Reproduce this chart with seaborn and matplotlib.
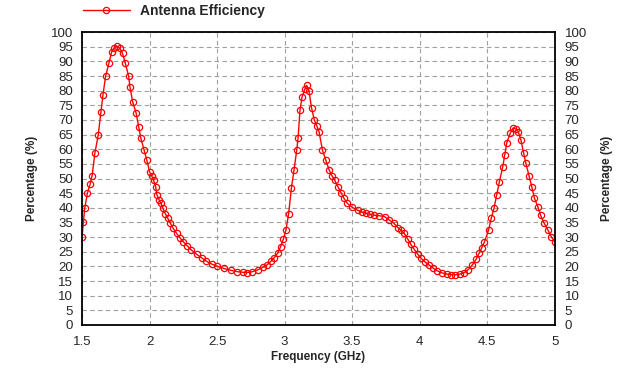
import numpy as np
import pandas as pd
import matplotlib
matplotlib.use("Agg")
import matplotlib.pyplot as plt
import seaborn as sns

# ==================== DATA ====================
freq_ghz = [
    1.50, 1.51, 1.52, 1.54, 1.56, 1.575, 1.595, 1.62, 1.64, 1.655, 1.675, 1.70,
    1.72, 1.74, 1.757, 1.78, 1.80, 1.82, 1.845, 1.855, 1.875, 1.90, 1.92, 1.935,
    1.96, 1.98, 2.00, 2.015, 2.03, 2.045, 2.055, 2.07, 2.085, 2.10, 2.117, 2.135,
    2.155, 2.175, 2.20, 2.225, 2.25, 2.28, 2.31, 2.35, 2.39, 2.42, 2.46, 2.50,
    2.55, 2.60, 2.65, 2.69, 2.72, 2.76, 2.80, 2.84, 2.87, 2.90, 2.92, 2.95,
    2.97, 2.99, 3.01, 3.03, 3.05, 3.07, 3.09, 3.10, 3.114, 3.13, 3.15, 3.163,
    3.18, 3.20, 3.22, 3.24, 3.255, 3.28, 3.305, 3.33, 3.35, 3.37, 3.395, 3.42,
    3.44, 3.465, 3.50, 3.54, 3.57, 3.60, 3.63, 3.66, 3.70, 3.74, 3.77, 3.81,
    3.84, 3.86, 3.885, 3.91, 3.935, 3.96, 3.985, 4.01, 4.04, 4.07, 4.10, 4.13,
    4.165, 4.20, 4.23, 4.26, 4.30, 4.33, 4.36, 4.39, 4.42, 4.44, 4.46, 4.48,
    4.51, 4.53, 4.55, 4.57, 4.59, 4.615, 4.63, 4.645, 4.67, 4.69, 4.71, 4.73,
    4.75, 4.77, 4.785, 4.81, 4.83, 4.85, 4.875, 4.895, 4.92, 4.95, 4.975, 5.00,
]
efficiency = [
    30.0, 35.0, 39.8, 45.0, 48.0, 51.0, 58.6, 64.8, 72.8, 78.5, 85.0, 89.5,
    93.3, 94.6, 95.2, 94.5, 92.7, 89.5, 85.0, 81.3, 76.2, 72.5, 67.7, 63.9,
    59.7, 56.3, 52.3, 51.0, 49.5, 47.2, 44.4, 42.8, 41.5, 39.8, 38.0, 36.4,
    34.7, 33.0, 31.3, 29.8, 28.4, 27.0, 25.6, 24.1, 22.8, 21.8, 20.8, 20.1,
    19.3, 18.7, 18.2, 18.0, 17.9, 18.2, 18.8, 19.7, 20.5, 21.8, 22.8, 24.6,
    26.7, 29.2, 32.4, 38.0, 46.6, 53.0, 59.7, 64.0, 73.4, 78.0, 80.5, 81.8,
    80.0, 74.0, 70.0, 67.8, 66.0, 59.7, 56.3, 52.9, 51.0, 49.5, 47.2, 45.0,
    43.2, 41.5, 40.2, 39.2, 38.6, 38.2, 37.8, 37.5, 37.3, 37.0, 36.0, 34.7,
    33.2, 32.4, 31.3, 29.5, 27.5, 25.8, 24.2, 22.8, 21.5, 20.5, 19.4, 18.5,
    17.8, 17.4, 17.2, 17.1, 17.4, 17.9, 18.9, 20.5, 22.6, 24.5, 26.4, 28.4,
    32.4, 36.4, 39.8, 44.4, 48.9, 54.0, 58.0, 62.2, 65.4, 67.2, 67.0, 66.0,
    63.1, 58.8, 55.4, 50.9, 47.2, 43.2, 40.4, 37.5, 34.9, 32.4, 30.1, 28.4,
]
y_ticks = list(range(0, 101, 5))
x_ticks = [1.5, 2, 2.5, 3, 3.5, 4, 4.5, 5]
x_tick_labels = ["1.5", "2", "2.5", "3", "3.5", "4", "4.5", "5"]

df = pd.DataFrame({"freq": freq_ghz, "eff": efficiency})

# ==================== PLOT ====================
sns.set_style("white")
plt.rcParams["font.family"] = ["Liberation Sans", "DejaVu Sans"]

fig = plt.figure(figsize=(6.24, 3.73), dpi=100)
ax = fig.add_axes([0.1314, 0.1287, 0.7576, 0.7853])

sns.lineplot(data=df, x="freq", y="eff", ax=ax, color="red", lw=1,
             marker="o", markersize=4.5, markerfacecolor="none",
             markeredgecolor="red", markeredgewidth=0.9,
             label="Antenna Efficiency", sort=False)

ax.set_xlim(1.5, 5)
ax.set_ylim(0, 100)
ax.set_xticks(x_ticks)
ax.set_xticklabels(x_tick_labels)
ax.set_yticks(y_ticks)
ax.grid(True, ls=(0, (4, 3)), color="#9aa39a", lw=0.8)
ax.tick_params(axis="x", length=0, labelsize=9.5, pad=8)
ax.tick_params(axis="y", length=0, labelsize=9.5, pad=6.5)
for s in ax.spines.values():
    s.set_color("black")
    s.set_linewidth(1.3)

ax.set_xlabel("Frequency (GHz)", fontsize=8.5, fontweight="bold", labelpad=2)
ax.set_ylabel("Percentage (%)", fontsize=8.5, fontweight="bold", labelpad=9)

# right-hand axis mirrors the left one
ax2 = ax.twinx()
ax2.set_ylim(0, 100)
ax2.set_yticks(y_ticks)
ax2.tick_params(axis="y", length=0, labelsize=9.5, pad=7)
ax2.set_ylabel("Percentage (%)", fontsize=8.5, fontweight="bold", labelpad=10)
for s in ax2.spines.values():
    s.set_visible(False)

# legend above the plot, top-left
leg = ax.legend(loc="lower left", bbox_to_anchor=(-0.01, 1.028), frameon=False,
                handlelength=3.4, handletextpad=0.75, borderaxespad=0,
                prop={"size": 10, "weight": "bold"})

fig.savefig("out.png", dpi=100)
